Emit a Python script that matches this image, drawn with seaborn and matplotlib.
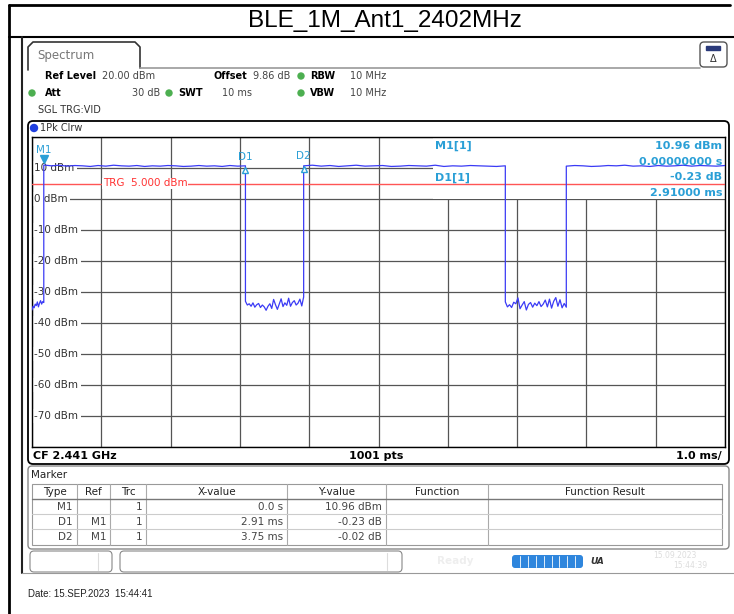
import numpy as np
import matplotlib
matplotlib.use("Agg")
import matplotlib.pyplot as plt
from matplotlib.patches import FancyBboxPatch, Circle, Rectangle
from matplotlib.transforms import offset_copy, blended_transform_factory
import seaborn as sns

# ---- data ----
title = "BLE_1M_Ant1_2402MHz"
date_text = "Date: 15.SEP.2023  15:44:41"

y_ticks = [10, 0, -10, -20, -30, -40, -50, -60, -70]
trg_level = 5.0

# burst edges in ms (sweep 0..10 ms, 1.0 ms/div)
edges_ms = [0.0, 0.17, 3.08, 3.92, 6.83, 7.71, 10.0]

low0 = [-35.8, -34.6, -35.1, -33.9, -34.4, -33.2, -34.8, -33.6, -32.8, -33.9, -33.1, -33.4]
high1 = [10.96, 10.7, 10.9, 10.6, 10.8, 10.7, 10.5, 10.8, 10.6, 10.9, 10.7, 10.6, 10.8, 10.5,
         10.7, 10.6, 10.8, 10.7, 10.5, 10.6, 10.8, 10.6, 10.7, 10.5, 10.8, 10.6, 10.7]
low1 = [-33.0, -34.2, -33.8, -34.6, -33.5, -34.9, -34.1, -33.7, -35.0, -34.2, -34.8, -35.9,
        -34.6, -33.8, -35.3, -32.4, -34.1, -35.6, -33.9, -32.2, -34.7, -33.5, -34.3, -32.0,
        -34.6, -33.4, -32.8, -34.2, -33.6, -32.3, -34.5, -31.6]
high2 = [10.7, 10.9, 10.6, 10.8, 10.5, 10.7, 10.9, 10.6, 10.7, 10.8, 10.5, 10.6, 10.8, 10.7,
         10.6, 10.9, 10.5, 10.7, 10.6, 10.8, 10.7, 10.6, 10.5, 10.7]
low2 = [-33.2, -34.8, -34.1, -35.0, -33.3, -33.8, -31.9, -35.4, -34.2, -33.1, -35.8, -34.0,
        -33.4, -34.9, -33.6, -34.4, -33.1, -34.7, -33.9, -32.6, -34.8, -32.3, -35.2, -33.0,
        -31.8, -34.6, -32.5, -35.1, -33.7, -34.9]
high3 = [10.6, 10.8, 10.7, 10.5, 10.6, 10.8, 10.7, 10.9, 10.6, 10.7, 10.5, 10.8, 10.6, 10.7,
         10.9, 10.6, 10.8, 10.7, 10.6, 10.8]
segments = [low0, high1, low1, high2, low2, high3]

m1_ms, m1_dbm = 0.17, 10.96
d1_ms, d1_db = 2.91, -0.23
d2_ms, d2_db = 3.75, -0.02

info_left = ["M1[1]", "", "D1[1]", ""]
info_right = ["10.96 dBm", "0.00000000 s", "-0.23 dB", "2.91000 ms"]

table_cols = ["Type", "Ref", "Trc", "X-value", "Y-value", "Function", "Function Result"]
table_rows = [["M1", "", "1", "0.0 s", "10.96 dBm", "", ""],
              ["D1", "M1", "1", "2.91 ms", "-0.23 dB", "", ""],
              ["D2", "M1", "1", "3.75 ms", "-0.02 dB", "", ""]]

# ---- layout helpers (pixel coordinates, y from top) ----
W, H = 734, 614
UI = "DejaVu Sans"
ARIAL = "Liberation Sans"
MK = "#2a9fd6"

sns.set_style("white")
plt.rcParams["font.family"] = [UI]
plt.rcParams["text.color"] = "black"

fig = plt.figure(figsize=(W / 100, H / 100), dpi=100)
bg = fig.add_axes([0, 0, 1, 1], zorder=0)
bg.set_xlim(0, W)
bg.set_ylim(H, 0)
bg.axis("off")


def ftext(x, y, s, **kw):
    kw.setdefault("va", "center")
    kw.setdefault("fontsize", 7.5)
    return fig.text(x / W, 1 - y / H, s, zorder=5, **kw)


def dot(x, y, c="#4caf50", r=3):
    bg.add_patch(Circle((x, y), r, color=c))


def rbox(x0, y0, x1, y1, ec="black", lw=1.0, fc="none", r=4):
    bg.add_patch(FancyBboxPatch((x0, y0), x1 - x0, y1 - y0,
                                boxstyle=f"round,pad=0,rounding_size={r}",
                                ec=ec, fc=fc, lw=lw))


# title frame
bg.plot([9, 730], [5, 5], color="black", lw=2)
bg.plot([9, 734], [37, 37], color="black", lw=1.5)
bg.plot([9, 9], [5, 614], color="black", lw=2)
ftext(385, 21, title, fontsize=17.5, ha="center", family=ARIAL, color="black")

# instrument screen edge
bg.plot([22, 22], [37, 573], color="#222222", lw=1.5)
bg.plot([22, 734], [573, 573], color="#999999", lw=0.8)

# spectrum tab
bg.plot([28, 28, 33, 135, 140, 140], [70, 47, 42, 42, 47, 68], color="#333333", lw=1.2)
bg.plot([140, 700], [68, 68], color="#999999", lw=1.2)
ftext(37, 55, "Spectrum", fontsize=8.5, color="#777777")
rbox(700, 42, 727, 67, ec="#555555", lw=1, r=4)
bg.add_patch(Rectangle((706, 46), 14, 4, color="#2a3a7a"))
ftext(713.5, 59, "Δ", fontsize=7, ha="center", color="#333333")

# settings header
HF = 7
ftext(45, 76, "Ref Level", fontweight="bold", fontsize=HF)
ftext(102, 76, "20.00 dBm", color="#444444", fontsize=HF)
ftext(214, 76, "Offset", fontweight="bold", fontsize=HF)
ftext(253, 76, "9.86 dB", color="#444444", fontsize=HF)
dot(301, 76)
ftext(310, 76, "RBW", fontweight="bold", fontsize=HF)
ftext(350, 76, "10 MHz", color="#444444", fontsize=HF)
dot(32, 93)
ftext(45, 93, "Att", fontweight="bold", fontsize=HF)
ftext(160, 93, "30 dB", ha="right", color="#444444", fontsize=HF)
dot(169, 93)
ftext(178, 93, "SWT", fontweight="bold", fontsize=HF)
ftext(252, 93, "10 ms", ha="right", color="#444444", fontsize=HF)
dot(301, 93)
ftext(310, 93, "VBW", fontweight="bold", fontsize=HF)
ftext(350, 93, "10 MHz", color="#444444", fontsize=HF)
ftext(38, 110, "SGL TRG:VID", color="#333333", fontsize=HF)

# trace panel
rbox(28, 121, 729, 464, lw=1.3, r=5)
dot(34, 128, c="#2040e0", r=3.5)
ftext(40, 128, "1Pk Clrw", color="#333333", fontsize=HF)
ftext(33, 456, "CF 2.441 GHz", fontweight="bold", fontsize=8)
ftext(376, 456, "1001 pts", fontweight="bold", fontsize=8, ha="center")
ftext(722, 456, "1.0 ms/", fontweight="bold", fontsize=8, ha="right")

# ---- the trace ----
ax = fig.add_axes([32 / W, 1 - 447 / H, (725 - 32) / W, (447 - 137) / H], zorder=1)
ax.set_facecolor("white")

xs, ys = [], []
for i, seg in enumerate(segments):
    xs.extend(np.linspace(edges_ms[i], edges_ms[i + 1], len(seg)))
    ys.extend(seg)
sns.lineplot(x=np.array(xs), y=np.array(ys), ax=ax, color="#3b3bf5", lw=0.9,
             sort=False, estimator=None, zorder=3)

ax.set_xlim(0, 10)
ax.set_ylim(-80, 20)
ax.set_xticks(range(0, 11))
ax.set_yticks(range(-80, 21, 10))
ax.set_axisbelow(True)
ax.grid(True, color="#555555", lw=0.9)
ax.tick_params(length=0, labelbottom=False, labelleft=False)
ax.set_xlabel("")
ax.set_ylabel("")
for sp in ax.spines.values():
    sp.set_color("black")
    sp.set_linewidth(1.0)

ylab_tr = blended_transform_factory(ax.transAxes, ax.transData)
for v in y_ticks:
    ax.text(0.0035, v, f"{v} dBm", transform=ylab_tr, va="center", ha="left",
            fontsize=7.5, color="#333333", zorder=2.5,
            bbox=dict(fc="white", ec="none", pad=1.6))

# trigger line
ax.axhline(trg_level, color="#ff5555", lw=1.0, zorder=2.6)
ax.text(0.102, trg_level, "TRG  5.000 dBm", transform=ylab_tr, va="center", ha="left",
        fontsize=7.5, color="#ff3333", zorder=2.7,
        bbox=dict(fc="white", ec="none", pad=0.6))

# marker readout box (covers grid, not the trace)
ax.add_patch(Rectangle((0.578, 0.8), 0.422, 0.2, transform=ax.transAxes,
                       fc="white", ec="none", zorder=1.5))

# markers
d1_x = m1_ms + d1_ms
d2_x = m1_ms + d2_ms
ax.plot([m1_ms], [m1_dbm], marker="v", ms=6, color=MK, ls="none", zorder=4,
        transform=offset_copy(ax.transData, fig=fig, y=6, units="dots"))
ax.annotate("M1", (m1_ms, m1_dbm), xytext=(0, 11), textcoords="offset points",
            ha="center", va="center", fontsize=7.5, color=MK, zorder=4)
for x, y, name in [(d1_x, m1_dbm + d1_db, "D1"), (d2_x, m1_dbm + d2_db, "D2")]:
    ax.plot([x], [y], marker="^", ms=5, mfc="white", mec=MK, mew=1, ls="none", zorder=4,
            transform=offset_copy(ax.transData, fig=fig, y=-4, units="dots"))
    ax.annotate(name, (x, y), xytext=(0, 6.5), textcoords="offset points",
                ha="center", va="center", fontsize=7.5, color=MK, zorder=4)

for i, (l, r) in enumerate(zip(info_left, info_right)):
    yy = 146 + i * 15.7
    if l:
        ftext(435, yy, l, fontweight="bold", fontsize=8, color=MK)
    ftext(722, yy, r, fontweight="bold", fontsize=8, color=MK, ha="right")

# ---- marker table ----
rbox(28, 466, 729, 549, ec="#888888", lw=1, r=4)
ftext(31, 475, "Marker", color="#222222")
col_edges = [32, 77, 110, 146, 287, 386, 488, 722]
row_y = [484, 499, 514, 529, 545]
bg.add_patch(Rectangle((32, 484), 690, 61, fc="none", ec="#999999", lw=0.8))
for x in col_edges[1:-1]:
    bg.plot([x, x], [484, 545], color="#aaaaaa", lw=0.8)
bg.plot([32, 722], [499, 499], color="#777777", lw=1.0)
for y in row_y[2:-1]:
    bg.plot([32, 722], [y, y], color="#cccccc", lw=0.8)
for j, c in enumerate(table_cols):
    ftext((col_edges[j] + col_edges[j + 1]) / 2, 492, c, ha="center", color="#222222")
for i, row in enumerate(table_rows):
    for j, c in enumerate(row):
        if c:
            ftext(col_edges[j + 1] - 4, 507 + i * 15, c, ha="right", color="#444444")

# ---- status bar ----
rbox(30, 551, 112, 572, ec="#888888", lw=0.8, r=4)
bg.plot([98, 98], [553, 570], color="#dddddd", lw=0.8)
rbox(120, 551, 402, 572, ec="#888888", lw=0.8, r=4)
bg.plot([387, 387], [553, 570], color="#dddddd", lw=0.8)
ftext(455, 561, "Ready", fontsize=7.5, color="#eeeeee", fontweight="bold", ha="center")
rbox(512, 555, 583, 568, ec="none", fc="#2f86dd", r=3)
for k in range(1, 9):
    bg.plot([512 + k * 7.9] * 2, [556, 567], color="white", lw=0.6)
ftext(597, 561, "UA", fontsize=6.5, fontweight="bold", style="italic", color="#333333", ha="center")
ftext(675, 556, "15.09.2023", fontsize=5.5, color="#dddddd", ha="center")
ftext(690, 566, "15:44:39", fontsize=5.5, color="#dddddd", ha="center")

ftext(28, 594, date_text, fontsize=7, family=ARIAL, color="#222222")

fig.savefig("out.png", dpi=100)
